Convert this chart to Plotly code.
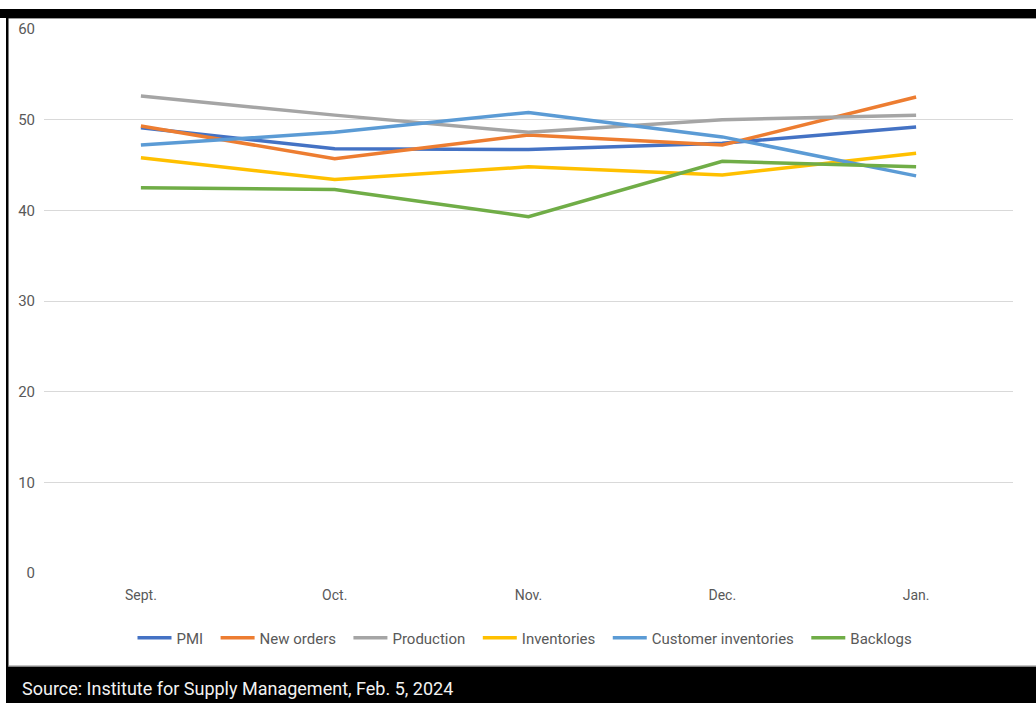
import plotly.graph_objects as go

months = ["Sept.", "Oct.", "Nov.", "Dec.", "Jan."]
pmi = [49.1, 46.8, 46.7, 47.4, 49.2]
new_orders = [49.3, 45.7, 48.3, 47.2, 52.5]
production = [52.6, 50.5, 48.6, 50.0, 50.5]
inventories = [45.8, 43.4, 44.8, 43.9, 46.3]
customer_inv = [47.2, 48.6, 50.8, 48.1, 43.8]
backlogs = [42.5, 42.3, 39.3, 45.4, 44.8]

series = [
    ("PMI", pmi, "#4472C4"),
    ("New orders", new_orders, "#ED7D31"),
    ("Production", production, "#A5A5A5"),
    ("Inventories", inventories, "#FFC000"),
    ("Customer inventories", customer_inv, "#5B9BD5"),
    ("Backlogs", backlogs, "#70AD47"),
]

fig = go.Figure()
for name, vals, color in series:
    fig.add_trace(go.Scatter(x=months, y=vals, name=name + "\u00a0\u00a0", mode="lines",
                             line=dict(color=color, width=3.5)))

W, H = 1036, 703
L, R, T, B = 44, 23, 29, 130
pw, ph = W - L - R, H - T - B


def px2x(px):
    return (px - L) / pw


def py2y(py):
    return (H - B - py) / ph


shapes = [
    dict(type="rect", xref="paper", yref="paper", x0=px2x(0), x1=px2x(W), y0=py2y(18), y1=py2y(9),
         fillcolor="black", line_width=0, layer="above"),
    dict(type="line", xref="paper", yref="paper", x0=px2x(8), x1=px2x(W), y0=py2y(18.5), y1=py2y(18.5),
         line=dict(color="#999999", width=1)),
    dict(type="rect", xref="paper", yref="paper", x0=px2x(6), x1=px2x(8.5), y0=py2y(H), y1=py2y(9),
         fillcolor="black", line_width=0),
    dict(type="rect", xref="paper", yref="paper", x0=px2x(6), x1=px2x(W), y0=py2y(H), y1=py2y(666.5),
         fillcolor="black", line_width=0),
    dict(type="line", xref="paper", yref="paper", x0=px2x(8), x1=px2x(W), y0=py2y(666), y1=py2y(666),
         line=dict(color="#888888", width=1)),
]

fig.update_layout(
    width=W, height=H,
    margin=dict(l=L, r=R, t=T, b=B),
    paper_bgcolor="white", plot_bgcolor="white",
    font=dict(family="Roboto", color="#595959"),
    shapes=shapes,
    showlegend=True,
    legend=dict(orientation="h", x=0.5, xanchor="center", y=py2y(638), yanchor="middle",
                font=dict(size=15, color="#595959"), itemwidth=34),
    annotations=[dict(text="Source: Institute for Supply Management, Feb. 5, 2024",
                      xref="paper", yref="paper", x=px2x(20), y=py2y(688),
                      xanchor="left", yanchor="middle", showarrow=False,
                      font=dict(size=18, color="#f2f2f2", family="Roboto"))],
)
fig.update_xaxes(range=[-0.5, 4.5], showgrid=False, zeroline=False, showline=False,
                 ticks="", tickfont=dict(size=14, color="#595959"), ticklabelstandoff=12)
fig.update_yaxes(range=[0, 60], dtick=10, showgrid=True, gridcolor="#d9d9d9", gridwidth=1,
                 zeroline=False, showline=False, ticks="",
                 tickfont=dict(size=15, color="#595959"), ticklabelstandoff=8)

fig.write_html("out.html")
